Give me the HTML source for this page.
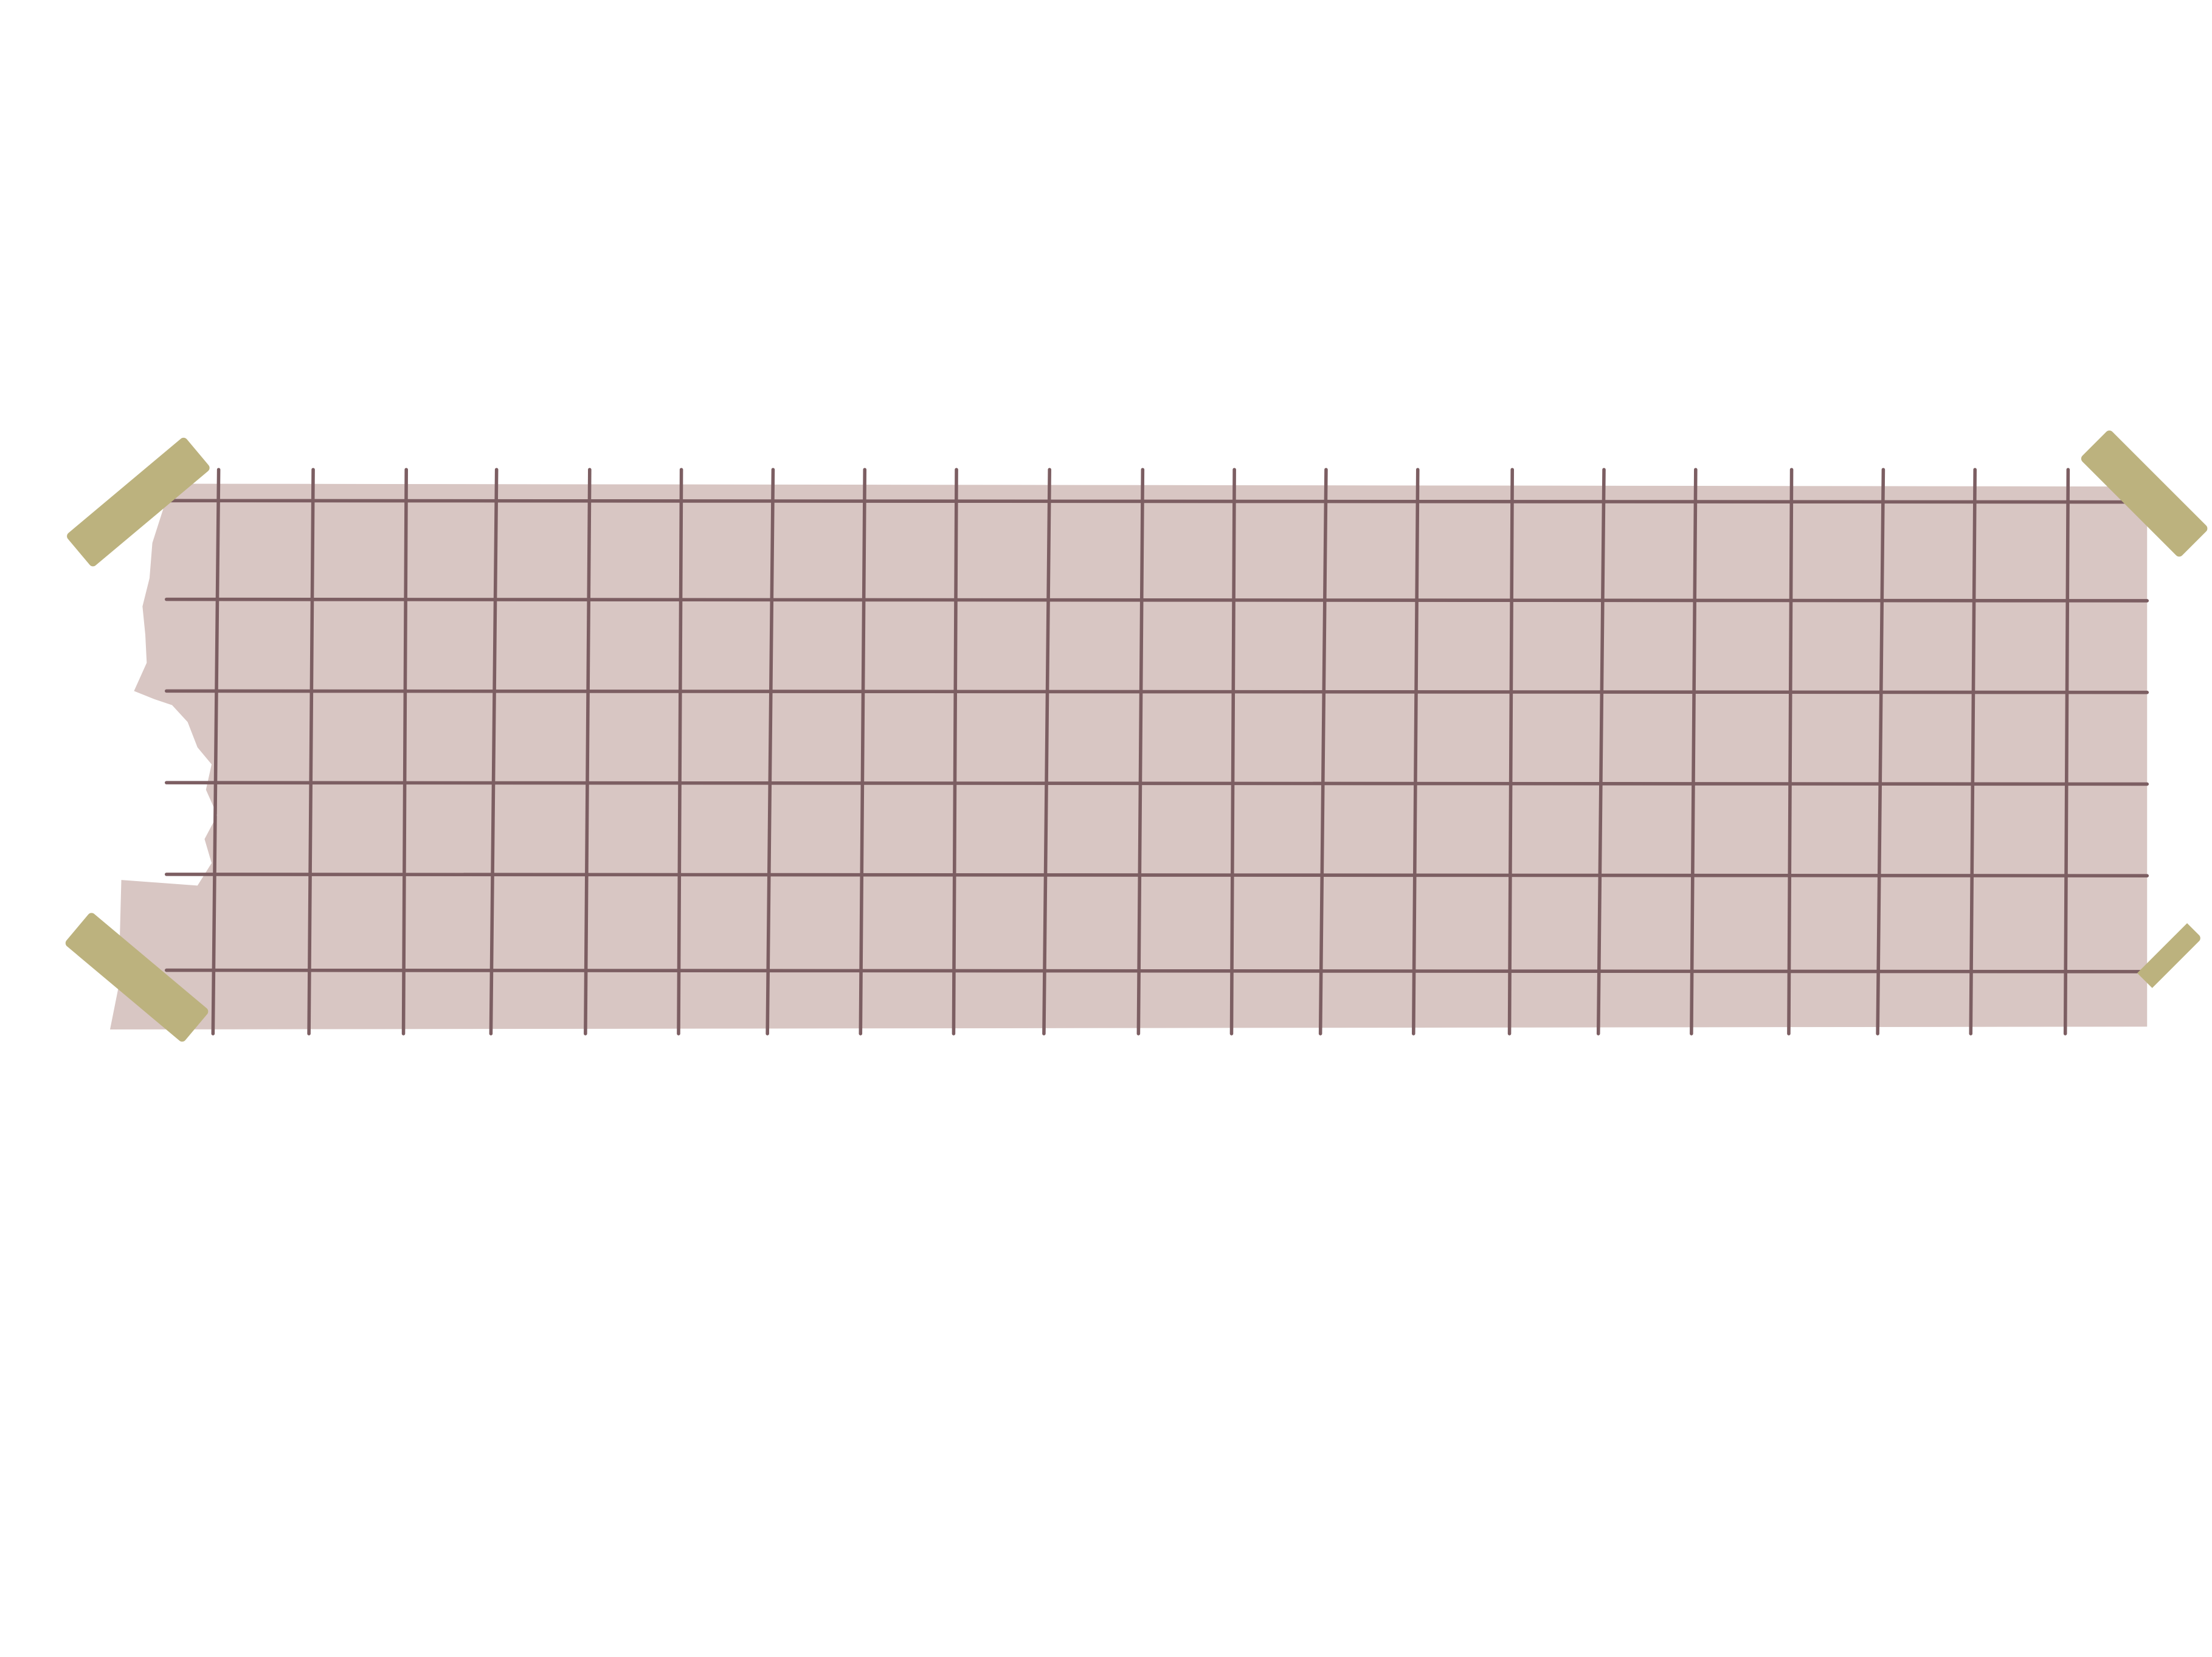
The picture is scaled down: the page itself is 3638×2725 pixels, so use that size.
<!DOCTYPE html>
<html>
<head>
<meta charset="utf-8">
<style>
html,body{margin:0;padding:0;background:#fff;}
svg{display:block;}
</style>
</head>
<body>
<svg id="art" width="3638" height="2725" viewBox="0 0 1568 1175" preserveAspectRatio="none" xmlns="http://www.w3.org/2000/svg">
  <rect x="0" y="0" width="1568" height="1175" fill="#ffffff"/>
  <path fill="#d8c6c3"
    d="M128,343 L1522,345 L1522,728 L78,730 L84,700 L86,624 L140,628 L150,612 L145,595 L154,578 L146,560 L150,542 L140,530 L133,512 L122,500 L110,496 L95,490 L104,470 L103,450 L101,430 L106,410 L108,385 L116,360 Z"/>
  <g id="grid" stroke="#7c5e62" stroke-width="2.4" stroke-linecap="round"></g>
  <g fill="#bcb27e">
    <rect x="-55" y="-15" width="110" height="30" rx="3" transform="translate(98,356) rotate(-40)"/>
    <rect x="-55" y="-15" width="110" height="30" rx="3" transform="translate(97,693) rotate(40)"/>
    <rect x="-50" y="-15" width="100" height="30" rx="3" transform="translate(1520,350) rotate(45)"/>
  </g>
  <clipPath id="clipR"><rect x="0" y="0" width="1522" height="1175"/></clipPath>
  <rect clip-path="url(#clipR)" fill="#bcb27e" x="-50" y="-15" width="100" height="30" rx="3" transform="translate(1515,690) rotate(-45)"/>
</svg>
<script>
const verticalLines = [155,222,288,352,418,483,548,613,678,744,810,875,940,1005,1072,1137,1202,1270,1335,1400,1466];
const horizontalLines = [355,425,490,555,620,688];
const g = document.getElementById('grid');
const NS = 'http://www.w3.org/2000/svg';
verticalLines.forEach((x, i) => {
  const l = document.createElementNS(NS, 'line');
  l.setAttribute('x1', x); l.setAttribute('x2', x - 4 + (i % 3));
  l.setAttribute('y1', 333); l.setAttribute('y2', 733);
  
  
  g.appendChild(l);
});
horizontalLines.forEach((y) => {
  const l = document.createElementNS(NS, 'line');
  l.setAttribute('x1', 118); l.setAttribute('x2', 1522);
  l.setAttribute('y1', y); l.setAttribute('y2', y + 1);
  
  
  g.appendChild(l);
});
</script>
</body>
</html>
